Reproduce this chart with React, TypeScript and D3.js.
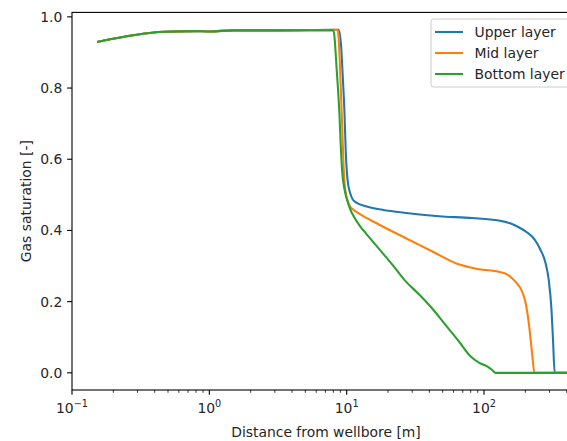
import React from "react";
import * as d3 from "d3";

const upperX = [0.155, 0.47, 0.8, 1.0, 1.5, 3, 8.74, 9.1, 9.4, 9.62, 9.85, 10.15, 10.6, 11.03, 11.68, 13.8, 18.2, 27, 47, 82, 128, 155, 179, 205, 224, 245, 258, 280, 296, 310, 318, 327, 500];
const upperY = [0.930, 0.958, 0.960, 0.959, 0.962, 0.962, 0.964, 0.92, 0.82, 0.739, 0.62, 0.542, 0.505, 0.488, 0.479, 0.468, 0.458, 0.449, 0.440, 0.435, 0.428, 0.420, 0.409, 0.395, 0.383, 0.362, 0.345, 0.310, 0.261, 0.177, 0.093, 0.0, 0.0];

const midX = [0.155, 0.47, 0.8, 1.0, 1.5, 3, 8.6, 8.9, 9.1, 9.3, 9.5, 9.77, 10.45, 11.2, 12.35, 17.3, 27, 42.1, 62.2, 80, 91.9, 128, 145, 160, 175, 184, 193, 201, 212, 224, 233, 500];
const midY = [0.930, 0.958, 0.960, 0.959, 0.962, 0.962, 0.964, 0.88, 0.78, 0.68, 0.58, 0.514, 0.472, 0.458, 0.447, 0.416, 0.378, 0.341, 0.308, 0.296, 0.291, 0.284, 0.278, 0.266, 0.250, 0.238, 0.220, 0.196, 0.139, 0.055, 0.0, 0.0];

const bottomX = [0.155, 0.47, 0.8, 1.0, 1.5, 3, 8.0, 8.5, 8.85, 9.1, 9.3, 9.6, 10.1, 10.6, 11.35, 12.5, 13.8, 17.2, 21.5, 26.2, 33.7, 42.1, 52.6, 65.7, 80, 91.8, 105.5, 114.8, 121.4, 500];
const bottomY = [0.930, 0.958, 0.960, 0.959, 0.962, 0.962, 0.962, 0.84, 0.73, 0.62, 0.56, 0.52, 0.484, 0.460, 0.437, 0.412, 0.392, 0.348, 0.304, 0.262, 0.220, 0.180, 0.134, 0.088, 0.046, 0.029, 0.018, 0.008, 0.0, 0.0];

const seriesNames = ["Upper layer", "Mid layer", "Bottom layer"];
const seriesColors = ["#1f77b4", "#ff7f0e", "#2ca02c"];
const yTicks = [0.0, 0.2, 0.4, 0.6, 0.8, 1.0];
const xMajorExps = [-1, 0, 1, 2];

const W = 567, H = 441;
const L = 72, R = 580, T = 12.4, B = 390;
const FONT = "DejaVu Sans, sans-serif";
const FS = 13.9;

export default function App() {
  const x = d3.scaleLog().domain([0.1, 500]).range([L, R]);
  const y = d3.scaleLinear().domain([-0.0482, 1.0125]).range([B, T]);
  const line = d3
    .line<[number, number]>()
    .x((d) => x(d[0]))
    .y((d) => y(d[1]))
    .curve(d3.curveMonotoneX);

  const series = [
    upperX.map((v, i) => [v, upperY[i]] as [number, number]),
    midX.map((v, i) => [v, midY[i]] as [number, number]),
    bottomX.map((v, i) => [v, bottomY[i]] as [number, number]),
  ];

  const minor: number[] = [];
  for (let e = -1; e <= 2; e++) {
    for (let m = 2; m <= 9; m++) {
      const v = m * Math.pow(10, e);
      if (v <= 500) minor.push(v);
    }
  }

  const legX = 431, legY = 19;
  return (
    <svg width={W} height={H} style={{ position: "absolute", left: 0, top: 0, background: "white" }} fontFamily={FONT}>
      <defs>
        <clipPath id="plotclip">
          <rect x={L} y={T} width={R - L} height={B - T} />
        </clipPath>
      </defs>
      <rect x={0} y={0} width={W} height={H} fill="white" />
      <g clipPath="url(#plotclip)">
        {series.map((s, i) => (
          <path key={i} d={line(s) || ""} fill="none" stroke={seriesColors[i]} strokeWidth={2.08} strokeLinejoin="round" strokeLinecap="square" />
        ))}
      </g>
      {/* spines */}
      <rect x={L} y={T} width={R - L} height={B - T} fill="none" stroke="black" strokeWidth={1.1} />
      {/* y ticks */}
      {yTicks.map((t) => (
        <g key={t}>
          <line x1={L - 4.86} x2={L} y1={y(t)} y2={y(t)} stroke="black" strokeWidth={1.1} />
          <text x={L - 9.7} y={y(t)} dy="0.35em" textAnchor="end" fontSize={FS} fill="#262626">
            {t.toFixed(1)}
          </text>
        </g>
      ))}
      {/* x ticks */}
      {xMajorExps.map((e) => {
        const px = x(Math.pow(10, e));
        return (
          <g key={e}>
            <line x1={px} x2={px} y1={B} y2={B + 4.86} stroke="black" strokeWidth={1.1} />
            <text x={px} y={B + 23} textAnchor="middle" fontSize={FS} fill="#262626">
              10
              <tspan dy={-6} fontSize={FS * 0.7}>
                {e < 0 ? "\u2212" + Math.abs(e) : String(e)}
              </tspan>
            </text>
          </g>
        );
      })}
      {minor.map((v) => (
        <line key={v} x1={x(v)} x2={x(v)} y1={B} y2={B + 2.78} stroke="black" strokeWidth={0.8} />
      ))}
      {/* axis labels */}
      <text x={(L + R) / 2} y={437} textAnchor="middle" fontSize={FS} fill="#262626">
        Distance from wellbore [m]
      </text>
      <text transform={`translate(${31},${(T + B) / 2}) rotate(-90)`} textAnchor="middle" fontSize={FS} fill="#262626">
        Gas saturation [-]
      </text>
      {/* legend */}
      <rect x={legX} y={legY} width={139} height={68} rx={2.8} fill="white" fillOpacity={0.8} stroke="#cccccc" strokeWidth={1} />
      {seriesNames.map((n, i) => {
        const cy = 32 + i * 21;
        return (
          <g key={n}>
            <line x1={435} x2={463} y1={cy} y2={cy} stroke={seriesColors[i]} strokeWidth={2.08} />
            <text x={474.5} y={cy} dy="0.35em" fontSize={FS} fill="#262626">
              {n}
            </text>
          </g>
        );
      })}
    </svg>
  );
}
